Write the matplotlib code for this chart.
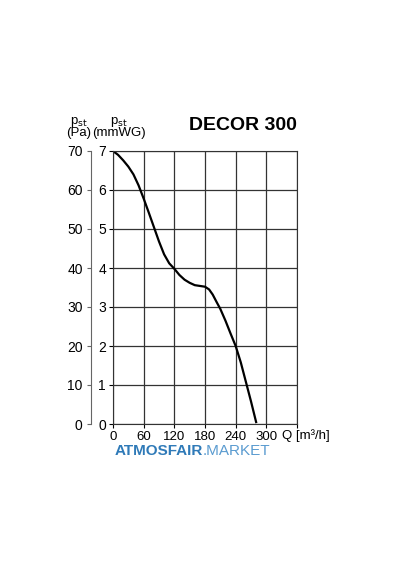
import matplotlib
matplotlib.use('Agg')
from matplotlib import pyplot as plt

plt.rcParams['font.family'] = ['Liberation Sans', 'DejaVu Sans']

# curve: Q [m3/h] vs p_st [mmWG]
q  = [0, 10, 20, 30, 40, 50, 60, 70, 80, 90, 100, 110, 120, 130, 140, 150, 160, 170, 180, 188, 195, 203, 210, 220, 230, 240, 250, 260, 270, 280]
ps = [7.0, 6.9, 6.76, 6.6, 6.4, 6.12, 5.78, 5.42, 5.05, 4.68, 4.35, 4.12, 3.98, 3.82, 3.7, 3.62, 3.56, 3.54, 3.52, 3.45, 3.32, 3.12, 2.95, 2.65, 2.32, 2.0, 1.58, 1.08, 0.58, 0.05]
q_ticks = [0, 60, 120, 180, 240, 300]
mm_ticks = [0, 1, 2, 3, 4, 5, 6, 7]
pa_ticks = [0, 10, 20, 30, 40, 50, 60, 70]

fig = plt.figure(figsize=(4, 5.7), dpi=100)
bottom, height = 1 - 424 / 570, (424 - 151) / 570
ax = fig.add_axes([113 / 400, bottom, 184 / 400, height])
ax.plot(q, ps, color='black', lw=1.6)
ax.set_xlim(0, 360)
ax.set_ylim(0, 7)
ax.set_xticks(q_ticks + [360])
ax.set_xticklabels([str(t) for t in q_ticks] + [''])
ax.set_yticks(mm_ticks)
ax.grid(color='#333333', lw=0.9)
for s in ax.spines.values():
    s.set_color('#333333')
ax.tick_params(labelsize=10, length=3, pad=2)
ax.tick_params(axis='x', labelsize=9.5, pad=2)

ax2 = fig.add_axes([91 / 400, bottom, 0.0001, height])
ax2.set_ylim(0, 70)
ax2.set_yticks(pa_ticks)
ax2.set_xticks([])
for k in ['top', 'right', 'bottom']:
    ax2.spines[k].set_visible(False)
ax2.spines['left'].set_color('#666666')
ax2.tick_params(labelsize=10, length=3, pad=3, color='#666666')

fig.text(79 / 400, 1 - 127 / 570, 'p$_{\\rm st}$\n(Pa)', ha='center', va='center', fontsize=9.5, linespacing=0.85)
fig.text(119 / 400, 1 - 127 / 570, 'p$_{\\rm st}$\n(mmWG)', ha='center', va='center', fontsize=9.5, linespacing=0.85)
fig.text(297 / 400, 1 - 126 / 570, 'DECOR 300', ha='right', va='center', fontsize=14, fontweight='bold')
fig.text(282 / 400, 1 - 436 / 570, 'Q [m³/h]', ha='left', va='center', fontsize=9.5)
fig.text(203 / 400, 1 - 451 / 570, 'ATMOSFAIR', ha='right', va='center', fontsize=11, fontweight='bold', color='#2f7ab8')
fig.text(203 / 400, 1 - 451 / 570, '.MARKET', ha='left', va='center', fontsize=11, color='#5a9bd0')

fig.savefig('out.png')
